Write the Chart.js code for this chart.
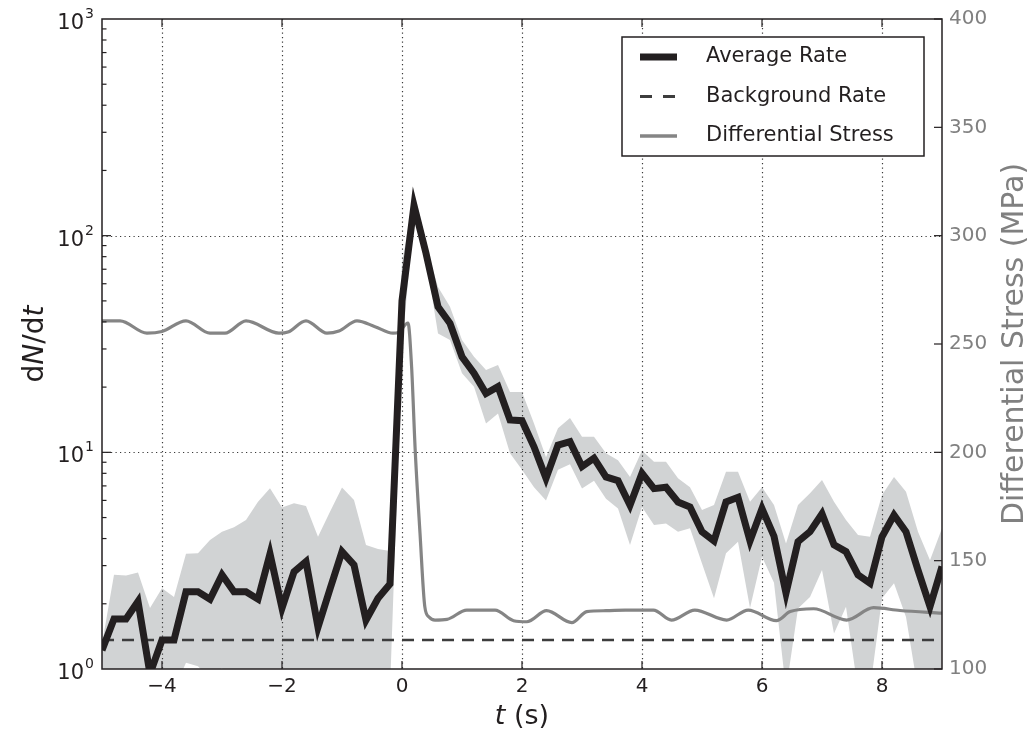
<!DOCTYPE html>
<html>
<head>
<meta charset="utf-8">
<title>Average rate and differential stress</title>
<script src="https://cdn.jsdelivr.net/npm/chart.js@4.4.0/dist/chart.umd.min.js"></script>
<style>
  html, body { margin: 0; padding: 0; background: #fff; }
  canvas { display: block; }
</style>
</head>
<body>
<canvas id="rateChart" width="1032" height="736"></canvas>
<script>
// time bins (s), relative to the main slip event
var times = [-5.0, -4.8, -4.6, -4.4, -4.2, -4.0, -3.8, -3.6, -3.4, -3.2,
             -3.0, -2.8, -2.6, -2.4, -2.2, -2.0, -1.8, -1.6, -1.4, -1.2,
             -1.0, -0.8, -0.6, -0.4, -0.2, 0.0, 0.2, 0.4, 0.6, 0.8,
             1.0, 1.2, 1.4, 1.6, 1.8, 2.0, 2.2, 2.4, 2.6, 2.8,
             3.0, 3.2, 3.4, 3.6, 3.8, 4.0, 4.2, 4.4, 4.6, 4.8,
             5.0, 5.2, 5.4, 5.6, 5.8, 6.0, 6.2, 6.4, 6.6, 6.8,
             7.0, 7.2, 7.4, 7.6, 7.8, 8.0, 8.2, 8.4, 8.6, 8.8,
             9.0];

// dN/dt, averaged over events
var avgRate = [1.22, 1.70, 1.70, 2.05, 0.95, 1.36, 1.36, 2.27, 2.27, 2.10,
               2.72, 2.27, 2.27, 2.10, 3.40, 1.91, 2.81, 3.13, 1.56, 2.34,
               3.48, 3.02, 1.68, 2.12, 2.47, 50, 138, 83, 47, 39.4,
               27.6, 23.2, 18.7, 20.1, 14.1, 14.0, 10.6, 7.6, 10.8, 11.2,
               8.6, 9.4, 7.7, 7.4, 5.7, 8.0, 6.8, 6.9, 5.9, 5.6,
               4.3, 3.9, 5.9, 6.2, 3.9, 5.5, 4.1, 2.24, 3.87, 4.3,
               5.2, 3.74, 3.48, 2.72, 2.49, 4.08, 5.14, 4.3, 2.86, 1.94,
               2.97];

// spread around the average (upper / lower edge of the shaded band)
var rateHigh = [1.3, 2.72, 2.70, 2.79, 1.91, 2.36, 2.15, 3.40, 3.42, 3.94,
                4.30, 4.51, 4.87, 5.92, 6.82, 5.57, 5.82, 5.66, 4.08, 5.32,
                6.89, 6.03, 3.74, 3.58, 3.5, 75, 155, 90, 58, 47,
                33, 27.6, 24, 25.3, 19.0, 19.0, 13.6, 9.5, 12.9, 14.4,
                11.8, 11.8, 9.9, 9.2, 7.7, 10.2, 9.05, 9.05, 7.59, 6.9,
                5.42, 5.71, 8.14, 8.14, 5.92, 6.9, 5.71, 3.80, 5.71, 6.47,
                7.45, 5.92, 4.87, 4.15, 4.08, 6.35, 7.7, 6.58, 4.30, 3.18,
                4.46];
var rateLow = [0.8, 0.8, 0.8, 0.8, 0.8, 0.8, 0.8, 1.07, 1.03, 0.9,
               1.01, 0.8, 0.8, 0.8, 0.8, 0.8, 0.8, 0.8, 0.8, 0.8,
               0.8, 0.8, 0.8, 0.8, 0.8, 30, 125, 78, 35.4, 33,
               23.2, 20.1, 13.6, 15.1, 9.9, 8.3, 6.9, 6.0, 8.3, 8.8,
               6.8, 7.4, 6.1, 5.5, 3.74, 5.6, 4.62, 4.70, 4.30, 4.46,
               3.07, 2.12, 3.42, 3.87, 1.91, 3.3, 2.5, 0.8, 1.9, 2.15,
               2.86, 1.46, 1.94, 0.8, 0.8, 2.12, 2.49, 1.74, 0.8, 0.8,
               0.8];

var backgroundRate = 1.36;

// differential stress (MPa) against time (s)
var stressTime = [-5.0, -4.7, -4.25, -4.0, -3.6, -3.2, -2.95, -2.6, -2.05, -1.9,
                  -1.6, -1.25, -1.05, -0.75, -0.45, -0.15, -0.05, 0.1, 0.16, 0.22,
                  0.3, 0.38, 0.45, 0.55, 0.75, 1.08, 1.55, 1.86, 2.08, 2.41,
                  2.83, 3.08, 3.4, 3.72, 4.19, 4.49, 4.88, 5.41, 5.77, 6.24,
                  6.47, 6.86, 7.41, 7.86, 8.3, 9.0];
var stressMPa = [260.7, 260.7, 255.0, 255.8, 260.7, 255.0, 255.0, 260.7, 255.0, 255.5,
                 260.7, 255.0, 256.0, 260.7, 258.0, 255.0, 255.5, 259.7, 239.5, 201,
                 162.7, 128.8, 124.0, 122.6, 122.9, 127.2, 127.2, 122.3, 121.8, 126.9,
                 121.4, 126.5, 126.9, 127.2, 127.2, 122.6, 127.2, 122.6, 127.2, 122.3,
                 126.5, 127.8, 122.6, 128.3, 127.0, 125.8];

var timeTicks = [-4, -2, 0, 2, 4, 6, 8];
var rateTicks = [1, 10, 100, 1000];
var stressTicks = [100, 150, 200, 250, 300, 350, 400];

var INK = '#231f20';
var GREY = '#858585';
var BAND = '#d1d3d4';
var FONT = '"DejaVu Sans", sans-serif';

function pairs(xs, ys) {
    return xs.map(function (x, i) { return {x: x, y: ys[i]}; });
}

function line(ctx, x1, y1, x2, y2) {
    ctx.beginPath();
    ctx.moveTo(x1, y1);
    ctx.lineTo(x2, y2);
    ctx.stroke();
}

// text made of normal / italic pieces, centred on x
function richText(ctx, parts, x, y, size) {
    var total = 0;
    parts.forEach(function (p) {
        ctx.font = (p.italic ? 'italic ' : '') + size + 'px ' + FONT;
        p.w = ctx.measureText(p.text).width;
        total += p.w;
    });
    var cx = x - total / 2;
    ctx.textAlign = 'left';
    parts.forEach(function (p) {
        ctx.font = (p.italic ? 'italic ' : '') + size + 'px ' + FONT;
        ctx.fillText(p.text, cx, y);
        cx += p.w;
    });
}

function drawGrid(chart) {
    var ctx = chart.ctx, a = chart.chartArea;
    var xs = chart.scales.x, ys = chart.scales.y;
    ctx.save();
    ctx.strokeStyle = '#3a3a3a';
    ctx.lineWidth = 1.2;
    ctx.setLineDash([1.2, 3.3]);
    timeTicks.forEach(function (v) {
        var px = Math.round(xs.getPixelForValue(v)) + 0.5;
        line(ctx, px, a.top, px, a.bottom);
    });
    [10, 100].forEach(function (v) {
        var py = Math.round(ys.getPixelForValue(v)) + 0.5;
        line(ctx, a.left, py, a.right, py);
    });
    ctx.restore();
}

function drawFrame(chart) {
    var ctx = chart.ctx, a = chart.chartArea;
    var xs = chart.scales.x, ys = chart.scales.y, y2 = chart.scales.y2;
    ctx.save();
    ctx.strokeStyle = INK;
    ctx.lineWidth = 1.5;
    ctx.strokeRect(a.left, a.top, a.right - a.left, a.bottom - a.top);

    // ticks point into the plot
    ctx.lineWidth = 1.2;
    timeTicks.forEach(function (v) {
        var px = xs.getPixelForValue(v);
        line(ctx, px, a.bottom, px, a.bottom - 8);
        line(ctx, px, a.top, px, a.top + 8);
    });
    for (var d = 1; d < 1000; d *= 10) {
        for (var m = 1; m < 10; m++) {
            var py = ys.getPixelForValue(d * m);
            var len = m === 1 ? 9 : 4.5;
            if (d * m === 1) continue;
            line(ctx, a.left, py, a.left + len, py);
        }
    }
    stressTicks.forEach(function (v) {
        var py = y2.getPixelForValue(v);
        line(ctx, a.right, py, a.right - 8, py);
    });
    ctx.restore();
}

function drawAxisText(chart) {
    var ctx = chart.ctx, a = chart.chartArea, ys = chart.scales.y;
    ctx.save();
    ctx.fillStyle = INK;
    ctx.textBaseline = 'alphabetic';

    // 10^n labels on the log axis
    rateTicks.forEach(function (v) {
        var py = ys.getPixelForValue(v);
        var exp = String(Math.round(Math.log10(v)));
        ctx.font = '14px ' + FONT;
        ctx.textAlign = 'left';
        var ex = a.left - 8 - ctx.measureText(exp).width;
        ctx.fillText(exp, ex, py - 1);
        ctx.font = '21px ' + FONT;
        ctx.textAlign = 'right';
        ctx.fillText('10', ex - 1, py + 10);
    });

    // dN/dt
    ctx.save();
    ctx.translate(43, (a.top + a.bottom) / 2);
    ctx.rotate(-Math.PI / 2);
    richText(ctx, [{text: 'd'}, {text: 'N', italic: true}, {text: '/d'}, {text: 't', italic: true}], 0, 0, 28);
    ctx.restore();

    // t (s)
    richText(ctx, [{text: 't', italic: true}, {text: ' (s)'}], (a.left + a.right) / 2, 724, 27);

    // right axis title
    ctx.save();
    ctx.fillStyle = '#808080';
    ctx.translate(1023, (a.top + a.bottom) / 2);
    ctx.rotate(-Math.PI / 2);
    richText(ctx, [{text: 'Differential Stress (MPa)'}], 0, 0, 30);
    ctx.restore();
    ctx.restore();
}

function drawLegend(chart) {
    var ctx = chart.ctx, a = chart.chartArea;
    var right = a.right - 18, top = a.top + 18;
    var left = right - 302, bottom = top + 119;
    ctx.save();
    ctx.fillStyle = '#fff';
    ctx.fillRect(left, top, right - left, bottom - top);
    ctx.strokeStyle = INK;
    ctx.lineWidth = 1.5;
    ctx.strokeRect(left, top, right - left, bottom - top);

    var rows = [
        {text: 'Average Rate', color: INK, width: 7, dash: []},
        {text: 'Background Rate', color: '#3d3d3d', width: 3, dash: [12, 11]},
        {text: 'Differential Stress', color: GREY, width: 3.5, dash: []}
    ];
    ctx.font = '21px ' + FONT;
    ctx.textBaseline = 'middle';
    ctx.textAlign = 'left';
    rows.forEach(function (r, i) {
        var ry = top + 20 + i * 39.5;
        ctx.strokeStyle = r.color;
        ctx.lineWidth = r.width;
        ctx.setLineDash(r.dash);
        line(ctx, left + 18, ry, left + 55, ry);
        ctx.fillStyle = INK;
        ctx.fillText(r.text, left + 84, ry);
    });
    ctx.restore();
}

var decor = {
    id: 'decor',
    beforeDraw: function (chart) {
        var ctx = chart.ctx;
        ctx.save();
        ctx.fillStyle = '#fff';
        ctx.fillRect(0, 0, chart.width, chart.height);
        ctx.restore();
    },
    afterDatasetDraw: function (chart, args) {
        // the band is drawn first; grid goes over it but under the lines
        if (args.index === 4) drawGrid(chart);
    },
    afterDraw: function (chart) {
        drawFrame(chart);
        drawAxisText(chart);
        drawLegend(chart);
    }
};

new Chart(document.getElementById('rateChart'), {
    type: 'line',
    data: {
        datasets: [
            {
                label: 'Average Rate',
                data: pairs(times, avgRate),
                borderColor: INK,
                borderWidth: 7,
                borderJoinStyle: 'miter',
                pointRadius: 0,
                yAxisID: 'y'
            },
            {
                label: 'Differential Stress',
                data: pairs(stressTime, stressMPa),
                borderColor: GREY,
                borderWidth: 3.2,
                cubicInterpolationMode: 'monotone',
                pointRadius: 0,
                yAxisID: 'y2'
            },
            {
                label: 'Background Rate',
                data: [{x: -5, y: backgroundRate}, {x: 9, y: backgroundRate}],
                borderColor: '#3d3d3d',
                borderWidth: 2.5,
                borderDash: [12, 8],
                pointRadius: 0,
                yAxisID: 'y'
            },
            {
                label: 'low',
                data: pairs(times, rateLow),
                borderColor: 'transparent',
                borderWidth: 1,
                pointRadius: 0,
                fill: false,
                yAxisID: 'y'
            },
            {
                label: 'high',
                data: pairs(times, rateHigh),
                borderColor: 'transparent',
                backgroundColor: BAND,
                borderWidth: 1,
                pointRadius: 0,
                fill: '-1',
                yAxisID: 'y'
            }
        ]
    },
    options: {
        responsive: false,
        animation: false,
        events: [],
        layout: {padding: {top: 19, left: 0, right: 0, bottom: 0}},
        plugins: {
            legend: {display: false},
            tooltip: {enabled: false}
        },
        scales: {
            x: {
                type: 'linear',
                min: -5,
                max: 9,
                position: 'bottom',
                afterFit: function (s) { s.height = 67; },
                afterBuildTicks: function (s) {
                    s.ticks = timeTicks.map(function (v) { return {value: v}; });
                },
                grid: {display: false, drawTicks: false},
                border: {display: false},
                ticks: {
                    padding: 6,
                    color: INK,
                    font: {family: FONT, size: 20},
                    maxRotation: 0,
                    callback: function (v) { return v < 0 ? '\u2212' + (-v) : String(v); }
                }
            },
            y: {
                type: 'logarithmic',
                min: 1,
                max: 1000,
                position: 'left',
                afterFit: function (s) { s.width = 102; },
                grid: {display: false, drawTicks: false},
                border: {display: false},
                ticks: {display: false}
            },
            y2: {
                type: 'linear',
                min: 100,
                max: 400,
                position: 'right',
                afterFit: function (s) { s.width = 90; },
                afterBuildTicks: function (s) {
                    s.ticks = stressTicks.map(function (v) { return {value: v}; });
                },
                grid: {display: false, drawTicks: false},
                border: {display: false},
                ticks: {
                    padding: 7,
                    color: '#808080',
                    font: {family: FONT, size: 20}
                }
            }
        }
    },
    plugins: [decor]
});
</script>
</body>
</html>
